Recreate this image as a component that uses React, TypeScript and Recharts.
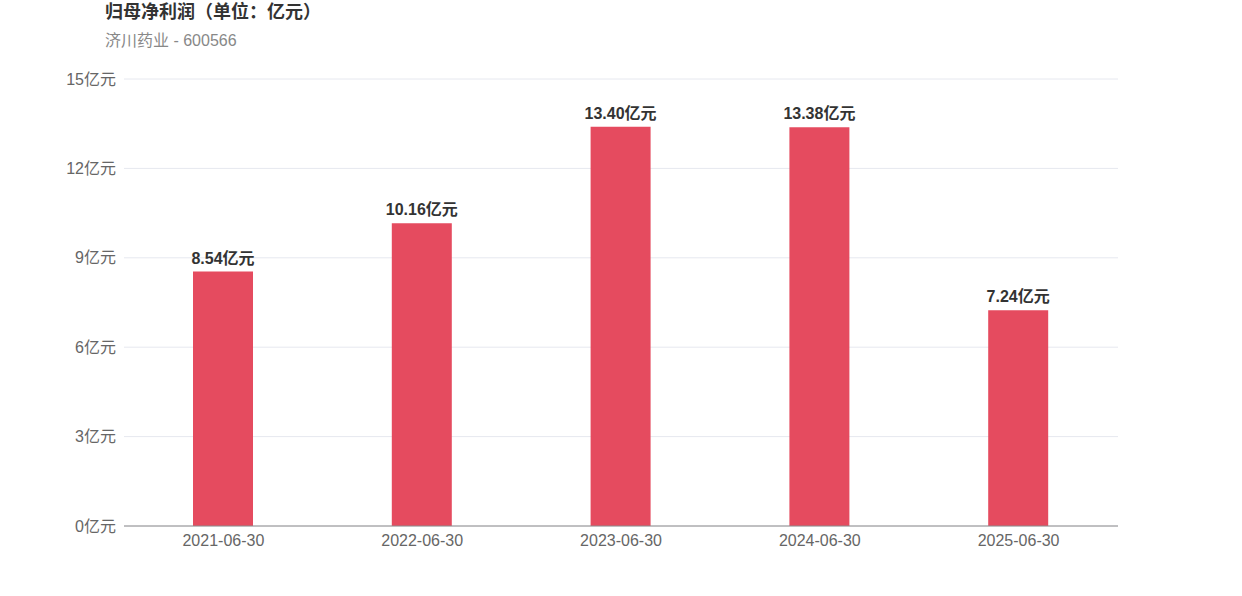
import React from 'react';
import { BarChart, Bar, XAxis, YAxis, CartesianGrid, LabelList } from 'recharts';

const dates = ['2021-06-30', '2022-06-30', '2023-06-30', '2024-06-30', '2025-06-30'];
const profit = [8.54, 10.16, 13.4, 13.38, 7.24];
const yTicks = [0, 3, 6, 9, 12, 15];

const data = dates.map((d, i) => ({ date: d, value: profit[i] }));

const font = '"Liberation Sans", "Noto Sans CJK SC", sans-serif';

export default function App() {
  return (
    <div style={{ position: 'absolute', left: 0, top: 0, width: 1242, height: 596, background: '#fff', fontFamily: font }}>
      <div style={{ position: 'absolute', left: 105, top: -3, fontSize: 18, fontWeight: 'bold', color: '#333' }}>
        归母净利润（单位：亿元）
      </div>
      <div style={{ position: 'absolute', left: 105, top: 27, fontSize: 16, color: '#888' }}>
        济川药业 - 600566
      </div>
      <BarChart
        width={1242}
        height={596}
        data={data}
        margin={{ top: 79, right: 124, bottom: 40, left: 0 }}
        style={{ fontFamily: font }}
      >
        <CartesianGrid horizontal vertical={false} stroke="#e6e8ef" />
        <XAxis
          dataKey="date"
          height={30}
          tickLine={false}
          axisLine={{ stroke: '#8c8c8c' }}
          tick={{ fontSize: 16, fill: '#666' }}
          tickMargin={3}
        />
        <YAxis
          width={124}
          domain={[0, 15]}
          ticks={yTicks}
          axisLine={false}
          tickLine={false}
          tick={{ fontSize: 16, fill: '#666' }}
          tickFormatter={(v) => `${v}亿元`}
        />
        <Bar dataKey="value" fill="#e54b5f" barSize={60} isAnimationActive={false}>
          <LabelList
            dataKey="value"
            position="top"
            offset={8}
            formatter={(v: number) => `${v.toFixed(2)}亿元`}
            style={{ fontSize: 16, fontWeight: 'bold', fill: '#333' }}
          />
        </Bar>
      </BarChart>
    </div>
  );
}
